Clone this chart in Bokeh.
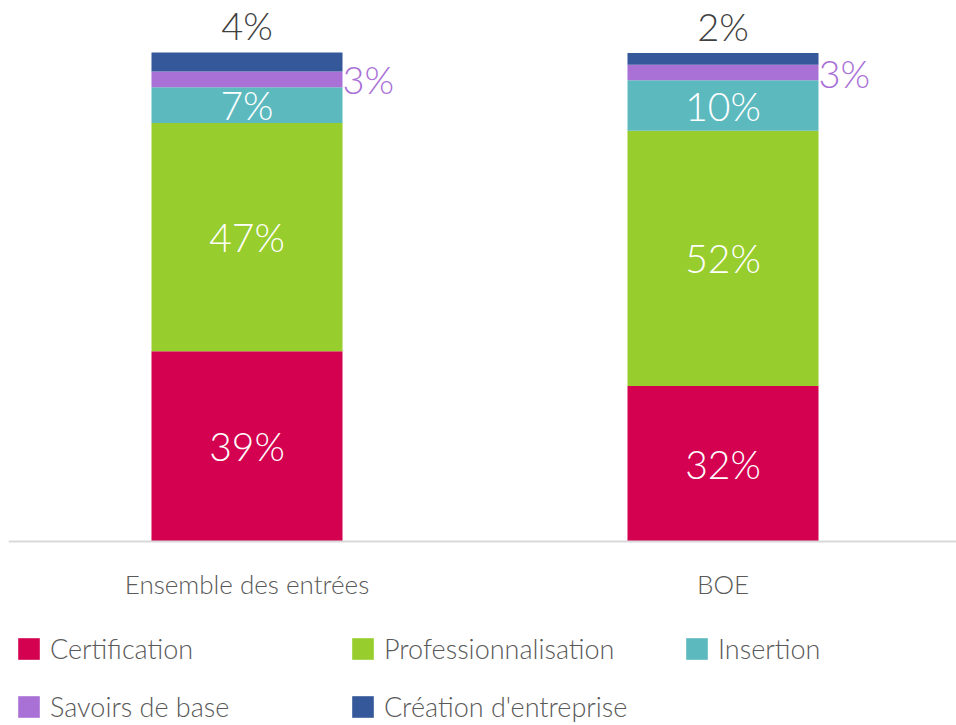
from bokeh.plotting import figure
from bokeh.models import ColumnDataSource, Range1d, Legend, LegendItem, Span
from bokeh.core.properties import value
from bokeh.embed import file_html
from bokeh.resources import INLINE

categories = ["Ensemble des entrées", "BOE"]
series = ["Certification", "Professionnalisation", "Insertion", "Savoirs de base", "Création d'entreprise"]
certification = [38.9, 31.8]
professionnalisation = [46.7, 52.2]
insertion = [7.3, 10.3]
savoirs = [3.2, 3.2]
creation = [3.9, 2.4]
colors = ["#d40050", "#97cd2d", "#5cbabf", "#a970d5", "#345899"]

FONT_NAME = "Lato Light, Lato"
FONT = value(FONT_NAME)
xpos = list(range(len(categories)))
keys = ["c", "p", "i", "s", "e"]
vals = [certification, professionnalisation, insertion, savoirs, creation]
data = dict(x=xpos)
for k, v in zip(keys, vals):
    data[k] = v
source = ColumnDataSource(data)

p = figure(width=956, height=725, output_backend="svg", toolbar_location=None,
           x_range=Range1d(-0.50105, 1.49055), y_range=Range1d(-37.63, 110.63),
           min_border_left=8, min_border_right=0, min_border_top=0, min_border_bottom=0,
           x_axis_location=None, y_axis_location=None)
p.outline_line_color = None
p.grid.visible = False

bw = 0.4013
renderers = p.vbar_stack(keys, x="x", width=bw, color=colors, line_color=None, source=source)

# baseline
p.add_layout(Span(location=0, dimension="width", line_color="#d9d9d9", line_width=2))

# category labels
p.text(x=xpos, y=[0] * len(xpos), text=categories, text_align="center", text_baseline="middle",
       y_offset=43, text_color="#595959", text_font=FONT, text_font_size="26px")

def pct(v):
    return f"{v:.0f}%"

# value labels
bottoms = [0, 0]
lab = dict(x=[], y=[], t=[])
for k, v in zip(keys[:3], vals[:3]):
    for j in range(len(categories)):
        lab["x"].append(xpos[j])
        lab["y"].append(bottoms[j] + v[j] / 2)
        lab["t"].append(pct(v[j]))
        bottoms[j] += v[j]
p.text(x="x", y="y", text="t", source=ColumnDataSource(lab), text_align="center",
       text_baseline="middle", text_color="white", text_font=FONT, text_font_size="39px")

sav = dict(x=[xpos[j] + bw / 2 for j in range(2)],
           y=[bottoms[j] + savoirs[j] / 2 for j in range(2)],
           t=[pct(v) for v in savoirs])
p.text(x="x", y="y", text="t", source=ColumnDataSource(sav), text_align="left",
       text_baseline="middle", text_color="#a970d6", text_font=FONT, text_font_size="38px")
for j in range(2):
    bottoms[j] += savoirs[j]

cre = dict(x=xpos, y=[bottoms[j] + creation[j] for j in range(2)], t=[pct(v) for v in creation])
p.text(x="x", y="y", text="t", source=ColumnDataSource(cre), text_align="center",
       text_baseline="bottom", y_offset=-4, text_color="#404040", text_font=FONT, text_font_size="38px")

legend = Legend(items=[LegendItem(label=s, renderers=[r]) for s, r in zip(series, renderers)],
                orientation="horizontal", ncols=3, location=(7, 2),
                glyph_width=27, glyph_height=27, label_standoff=8, label_width=274,
                label_height=22, spacing=25, padding=0, margin=0,
                border_line_color=None, background_fill_alpha=0,
                label_text_font=FONT_NAME, label_text_font_size="27px", label_text_color="#595959")
p.add_layout(legend, "center")

open("out.html", "w").write(file_html(p, INLINE))
